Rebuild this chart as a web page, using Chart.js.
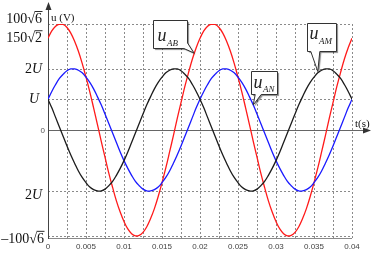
<!DOCTYPE html>
<html>
<head>
<meta charset="utf-8">
<script src="https://cdn.jsdelivr.net/npm/chart.js@4/dist/chart.umd.min.js"></script>
<style>
html,body{margin:0;padding:0;background:#fff;}
canvas{display:block;}
</style>
</head>
<body>
<canvas id="c" width="374" height="267"></canvas>
<script>
// ---- data ----
const times = [0,0.0005,0.001,0.0015,0.002,0.0025,0.003,0.0035,0.004,0.0045,
0.005,0.0055,0.006,0.0065,0.007,0.0075,0.008,0.0085,0.009,0.0095,
0.01,0.0105,0.011,0.0115,0.012,0.0125,0.013,0.0135,0.014,0.0145,
0.015,0.0155,0.016,0.0165,0.017,0.0175,0.018,0.0185,0.019,0.0195,
0.02,0.0205,0.021,0.0215,0.022,0.0225,0.023,0.0235,0.024,0.0245,
0.025,0.0255,0.026,0.0265,0.027,0.0275,0.028,0.0285,0.029,0.0295,
0.03,0.0305,0.031,0.0315,0.032,0.0325,0.033,0.0335,0.034,0.0345,
0.035,0.0355,0.036,0.0365,0.037,0.0375,0.038,0.0385,0.039,0.0395,0.04];

const uAB = [212,229,240,245,244,237,224,205,182,154,
122,88,51,13,-26,-63,-100,-133,-164,-190,
-212,-229,-240,-245,-244,-237,-224,-205,-182,-154,
-122,-88,-51,-13,26,63,100,133,164,190,
212,229,240,245,244,237,224,205,182,154,
122,88,51,13,-26,-63,-100,-133,-164,-190,
-212,-229,-240,-245,-244,-237,-224,-205,-182,-154,
-122,-88,-51,-13,26,63,100,133,164,190,212];

const uAN = [71,89,105,119,129,137,141,141,138,132,
122,110,95,77,58,37,15,-7,-29,-51,
-71,-89,-105,-119,-129,-137,-141,-141,-138,-132,
-122,-110,-95,-77,-58,-37,-15,7,29,51,
71,89,105,119,129,137,141,141,138,132,
122,110,95,77,58,37,15,-7,-29,-51,
-71,-89,-105,-119,-129,-137,-141,-141,-138,-132,
-122,-110,-95,-77,-58,-37,-15,7,29,51,71];

const uAM = [71,51,29,7,-15,-37,-58,-77,-95,-110,
-122,-132,-138,-141,-141,-137,-129,-119,-105,-89,
-71,-51,-29,-7,15,37,58,77,95,110,
122,132,138,141,141,137,129,119,105,89,
71,51,29,7,-15,-37,-58,-77,-95,-110,
-122,-132,-138,-141,-141,-137,-129,-119,-105,-89,
-71,-51,-29,-7,15,37,58,77,95,110,
122,132,138,141,141,137,129,119,105,89,71];

const xTickLabels = ['0','0.005','0.01','0.015','0.02','0.025','0.03','0.035','0.04'];
const xGridValues = [0.0025,0.005,0.0075,0.01,0.0125,0.015,0.0175,0.02,0.0225,0.025,0.0275,0.03,0.0325,0.035,0.0375,0.04];
const yTickValues = [245,212.1,141.4,70.7,0,-141.4,-245];
const yTickLabels = ['100√6','150√2','2U','U','0','2U','\u2013100√6'];
const yGridValues = [245,141.4,70.7,-141.4,-245];

const calloutNames = ['AB','AM','AN'];
const calloutTimes = [0.0192,0.0355,0.027];
const calloutValues = [178,135,57.5];

// ---- styles (kept apart from data) ----
const yLabelShift = [-6,-1,-1,-1,0,3,2];
const yLabelRight = [42,42,42,39,45,42,44];
const calloutGeom = [
  {L:-41,R:-7,T:-33,B:-5, tail:[[-7,-10],[-10,-5]], side:'right', tx:4, tb:20, sb:25},
  {L:-11,R:18,T:-49,B:-21, tail:[[2,-21],[-7,-21]], side:'bottom', tx:2, tb:15, sb:20},
  {L:-2,R:24,T:-34,B:-11, tail:[[8,-11],[2,-11]], side:'bottom', tx:2, tb:16, sb:20}
];
const SERIF = '"Liberation Serif", "DejaVu Serif", serif';

function line(ctx,x1,y1,x2,y2){ctx.beginPath();ctx.moveTo(x1,y1);ctx.lineTo(x2,y2);ctx.stroke();}

const decor = {
  id:'decor',
  beforeDatasetsDraw(chart){
    const {ctx, chartArea:a, scales:{x,y}} = chart;
    ctx.save();
    ctx.lineWidth = 1;
    ctx.strokeStyle = '#8a8a8a';
    ctx.setLineDash([2,2]);
    xGridValues.forEach(v=>{const p=Math.round(x.getPixelForValue(v))+0.5; line(ctx,p,a.top,p,a.bottom);});
    yGridValues.forEach(v=>{const p=Math.round(y.getPixelForValue(v))+0.5; line(ctx,a.left,p,a.right,p);});
    ctx.setLineDash([]);
    // bottom line
    ctx.strokeStyle = '#8a8a8a';
    line(ctx,a.left,a.bottom+0.5,a.right,a.bottom+0.5);
    // horizontal axis through 0 with arrow
    const y0 = Math.round(y.getPixelForValue(0))+0.5;
    ctx.strokeStyle = '#666';
    line(ctx,a.left,y0,a.right+14,y0);
    ctx.fillStyle = '#333';
    ctx.beginPath(); ctx.moveTo(a.right+19,y0); ctx.lineTo(a.right+11,y0-3); ctx.lineTo(a.right+11,y0+3); ctx.closePath(); ctx.fill();
    // vertical axis with arrow
    const x0 = Math.round(x.getPixelForValue(0))+0.5;
    ctx.strokeStyle = '#444';
    line(ctx,x0,a.bottom+1,x0,8);
    ctx.beginPath(); ctx.moveTo(x0,2); ctx.lineTo(x0-3,10); ctx.lineTo(x0+3,10); ctx.closePath(); ctx.fill();
    ctx.restore();
  },
  afterDatasetsDraw(chart){
    const {ctx, chartArea:a, scales:{x,y}} = chart;
    ctx.save();
    ctx.fillStyle = '#111';
    ctx.textBaseline = 'alphabetic';
    // y labels
    yTickLabels.forEach((lab,i)=>{
      const cy = y.getPixelForValue(yTickValues[i]) + yLabelShift[i];
      const right = yLabelRight[i];
      const base = cy + 5;
      if (lab === '0') {
        ctx.font = '8px "Liberation Sans", Arial, sans-serif';
        ctx.fillStyle = '#555';
        ctx.textAlign = 'right';
        ctx.fillText(lab, right, cy+3);
        ctx.fillStyle = '#111';
        return;
      }
      ctx.textAlign = 'left';
      if (lab.indexOf('√') >= 0) {
        const [pre, rad] = lab.split('√');
        ctx.font = '14px ' + SERIF;
        const wPre = ctx.measureText(pre).width;
        const wS = ctx.measureText('√').width;
        const wR = ctx.measureText(rad).width;
        const left = right - (wPre + wS + wR);
        ctx.fillText(pre, left, base);
        ctx.fillText('√', left+wPre, base);
        ctx.fillText(rad, left+wPre+wS, base);
        ctx.lineWidth = 0.9; ctx.strokeStyle = '#111';
        line(ctx, left+wPre+wS-0.5, base-11.5, left+wPre+wS+wR+0.5, base-11.5);
      } else {
        const num = lab.slice(0, lab.length-1);
        ctx.font = 'italic 14px ' + SERIF;
        const wU = ctx.measureText('U').width;
        ctx.font = '14px ' + SERIF;
        const wN = ctx.measureText(num).width;
        const left = right - wN - wU;
        ctx.fillText(num, left, base);
        ctx.font = 'italic 14px ' + SERIF;
        ctx.fillText('U', left+wN, base);
      }
    });
    // axis titles
    ctx.font = '11px ' + SERIF;
    ctx.textAlign = 'left';
    ctx.fillText('u (V)', 51, 21);
    ctx.fillText('t(s)', a.right+3, 127);
    // callouts
    calloutNames.forEach((nm,i)=>{
      const g = calloutGeom[i];
      const tx = x.getPixelForValue(calloutTimes[i]);
      const ty = y.getPixelForValue(calloutValues[i]);
      const L = Math.round(tx+g.L)+0.5, R = Math.round(tx+g.R)+0.5, T = Math.round(ty+g.T)+0.5, B = Math.round(ty+g.B)+0.5;
      const p1 = [tx+g.tail[0][0], ty+g.tail[0][1]];
      const p2 = [tx+g.tail[1][0], ty+g.tail[1][1]];
      ctx.beginPath();
      ctx.moveTo(L,T); ctx.lineTo(R,T);
      if (g.side === 'right') {
        ctx.lineTo(R,p1[1]); ctx.lineTo(tx,ty); ctx.lineTo(p2[0],B); ctx.lineTo(L,B);
      } else {
        ctx.lineTo(R,B); ctx.lineTo(p1[0],B); ctx.lineTo(tx,ty); ctx.lineTo(p2[0],B); ctx.lineTo(L,B);
      }
      ctx.closePath();
      ctx.save();
      ctx.shadowColor = 'rgba(0,0,0,0.45)'; ctx.shadowOffsetX = 1.5; ctx.shadowOffsetY = 1.5; ctx.shadowBlur = 1;
      ctx.fillStyle = '#fff'; ctx.fill();
      ctx.restore();
      ctx.lineWidth = 1; ctx.strokeStyle = '#333'; ctx.stroke();
      ctx.fillStyle = '#222';
      ctx.textAlign = 'left';
      ctx.font = 'italic 18px ' + SERIF;
      const wu = ctx.measureText('u').width;
      ctx.fillText('u', L+g.tx, T+g.tb);
      ctx.font = 'italic 9px ' + SERIF;
      ctx.fillText(nm, L+g.tx+wu+0.5, T+g.sb);
    });
    ctx.restore();
  }
};

const mk = (arr)=>times.map((t,i)=>({x:t,y:arr[i]}));
new Chart(document.getElementById('c'), {
  type:'line',
  data:{datasets:[
    {label:'u_AM', data:mk(uAM), borderColor:'#1c1c1c', borderWidth:1.3, pointRadius:0, tension:0.4, fill:false},
    {label:'u_AN', data:mk(uAN), borderColor:'#1a1aff', borderWidth:1.3, pointRadius:0, tension:0.4, fill:false},
    {label:'u_AB', data:mk(uAB), borderColor:'#ff1a1a', borderWidth:1.3, pointRadius:0, tension:0.4, fill:false}
  ]},
  options:{
    responsive:false, animation:false, devicePixelRatio:1,
    layout:{padding:{top:24,right:22,left:0,bottom:0}},
    plugins:{legend:{display:false}, tooltip:{enabled:false}},
    scales:{
      x:{type:'linear', min:0, max:0.04,
         grid:{display:false, drawTicks:false}, border:{display:false},
         ticks:{stepSize:0.005, autoSkip:false, maxRotation:0, padding:4, color:'#444',
                font:{family:'"Liberation Sans", Arial, sans-serif', size:8},
                callback:(v,i)=>xTickLabels[i] ?? ''},
         afterFit:(s)=>{s.height=29;}},
      y:{type:'linear', min:-250, max:245,
         grid:{display:false, drawTicks:false}, border:{display:false},
         ticks:{display:false},
         afterFit:(s)=>{s.width=48;}}
    }
  },
  plugins:[decor]
});
</script>
</body>
</html>
